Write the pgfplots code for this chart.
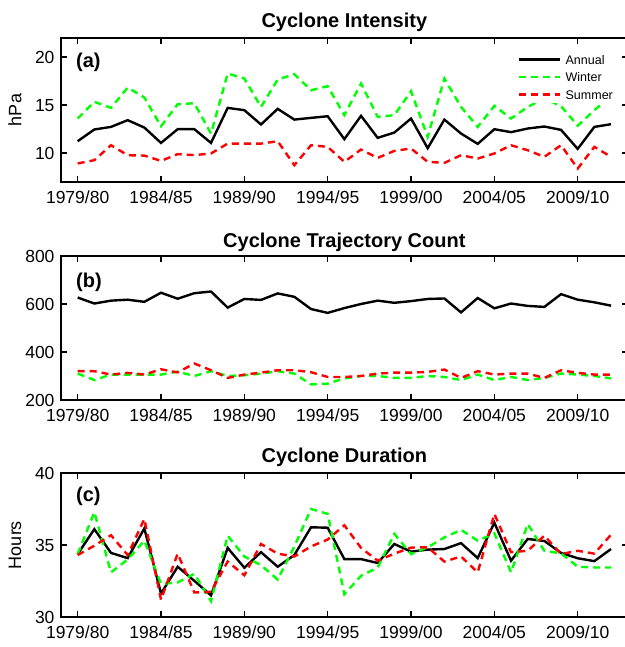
\documentclass[border=0pt]{standalone}
\usepackage{fontspec}
\setmainfont{Liberation Sans}
\usepackage{pgfplots}
\usepackage{pgfplotstable}
\pgfplotsset{compat=1.18}

\definecolor{wingreen}{RGB}{0,255,0}
\definecolor{sumred}{RGB}{255,0,0}

% season index: 0 = 1979/80 ... 32 = 2011/12
\pgfplotstableread{
x ann win sum
0 11.25 13.61 8.93
1 12.47 15.35 9.27
2 12.74 14.72 10.83
3 13.44 16.84 9.79
4 12.67 15.80 9.75
5 11.07 12.81 9.20
6 12.50 15.10 9.90
7 12.50 15.20 9.80
8 11.07 12.05 9.97
9 14.72 18.30 11.00
10 14.48 17.78 11.00
11 12.99 14.82 11.00
12 14.62 17.67 11.25
13 13.50 18.23 8.75
14 13.68 16.56 10.83
15 13.85 16.98 10.66
16 11.46 13.96 9.10
17 13.89 17.26 10.38
18 11.60 13.78 9.51
19 12.15 13.96 10.24
20 13.61 16.46 10.49
21 10.52 11.70 9.10
22 13.50 17.78 8.99
23 12.05 14.82 9.79
24 10.97 12.74 9.44
25 12.50 14.93 9.97
26 12.19 13.61 10.83
27 12.57 14.82 10.31
28 12.78 15.70 9.62
29 12.43 14.90 10.83
30 10.45 12.87 8.40
31 12.74 14.48 10.66
32 13.02 16.00 9.62
}\intensity

\pgfplotstableread{
x ann win sum
0 627 310 320
1 602 283 320
2 614 306 306
3 618 306 313
4 609 306 306
5 647 306 328
6 622 318 315
7 645 300 352
8 652 320 324
9 585 300 292
10 621 303 306
11 617 310 314
12 644 320 324
13 630 310 324
14 579 265 316
15 563 268 296
16 583 290 296
17 600 300 300
18 614 300 310
19 605 292 314
20 612 292 314
21 621 300 317
22 623 296 327
23 565 283 292
24 625 306 320
25 582 283 306
26 602 296 310
27 592 283 310
28 588 292 292
29 641 310 324
30 618 306 313
31 607 300 306
32 593 290 306
}\trajcount

\pgfplotstableread{
x ann win sum
0 34.37 34.37 34.30
1 36.10 37.28 34.95
2 34.45 33.10 35.68
3 34.09 34.00 34.30
4 36.15 35.30 36.81
5 31.63 32.30 31.20
6 33.49 32.40 34.40
7 32.51 33.00 31.70
8 31.50 31.10 31.75
9 34.80 35.65 33.85
10 33.42 34.20 32.90
11 34.50 33.60 35.07
12 33.49 32.60 34.40
13 34.30 34.90 34.20
14 36.23 37.50 34.90
15 36.20 37.16 35.38
16 34.02 31.58 36.37
17 34.02 32.86 34.80
18 33.75 33.44 33.91
19 35.07 35.77 34.40
20 34.54 34.37 34.82
21 34.68 34.84 34.84
22 34.72 35.53 33.85
23 35.13 36.05 34.20
24 34.09 35.30 33.10
25 36.55 35.81 37.16
26 33.91 33.10 34.50
27 35.42 36.46 34.60
28 35.28 34.60 35.65
29 34.45 34.42 34.37
30 34.08 33.49 34.60
31 33.88 33.44 34.40
32 34.72 33.44 35.72
}\duration

\pgfplotsset{
  panel/.style={
    scale only axis, width=566.7bp, height=144bp, anchor=south west,
    xmin=-1, xmax=33,
    xtick={0,5,...,30},
    xticklabels={1979/80,1984/85,1989/90,1994/95,1999/00,2004/05,2009/10},
    tick align=inside, xtick pos=both, ytick pos=both,
    xticklabel pos=bottom, yticklabel pos=left,
    major tick length=6bp,
    axis line style={line width=1.8bp},
    every tick/.style={black, line width=1.4bp},
    /pgf/number format/assume math mode=true,
    tick label style={font=\fontsize{17.5bp}{20bp}\selectfont},
    xticklabel style={yshift=-5bp},
    yticklabel style={xshift=-3bp},
    no markers,
  },
  ann/.style={black, line width=2.4bp},
  win/.style={wingreen, line width=2.4bp, dash pattern=on 7bp off 5bp},
  sum/.style={sumred, line width=2.4bp, dash pattern=on 7bp off 5bp},
}

\newcommand{\titlefont}{\bfseries\fontsize{20bp}{22bp}\selectfont}
\newcommand{\tagfont}{\bfseries\fontsize{20bp}{22bp}\selectfont}
\newcommand{\labfont}{\fontsize{18bp}{20bp}\selectfont}

\begin{document}
\begin{tikzpicture}
% (a) intensity
\begin{axis}[panel, name=pa, at={(61bp,465bp)},
  ymin=7, ymax=22, ytick={10,15,20},
  legend cell align=left,
  legend style={at={(0.803,0.91)}, anchor=north west, draw=none, fill=white,
    inner xsep=2bp, inner ysep=2bp, row sep=4.5bp, column sep=2bp,
    font=\fontsize{12.5bp}{14bp}\selectfont,
    nodes={inner sep=2bp, text height=9bp, text depth=0bp}},
  legend image code/.code={\draw[#1] (0bp,0bp) -- (41bp,0bp);},
]
\addplot[ann] table[x=x, y=ann] {\intensity};
\addlegendentry{Annual}
\addplot[win] table[x=x, y=win] {\intensity};
\addlegendentry{Winter}
\addplot[sum] table[x=x, y=sum] {\intensity};
\addlegendentry{Summer}
\end{axis}

% (b) trajectory count
\begin{axis}[panel, name=pb, at={(61bp,247bp)},
  ymin=200, ymax=800, ytick={200,400,600,800}]
\addplot[ann] table[x=x, y=ann] {\trajcount};
\addplot[win] table[x=x, y=win] {\trajcount};
\addplot[sum] table[x=x, y=sum] {\trajcount};
\end{axis}

% (c) duration
\begin{axis}[panel, name=pc, at={(61bp,30bp)},
  ymin=30, ymax=40, ytick={30,35,40}]
\addplot[ann] table[x=x, y=ann] {\duration};
\addplot[win] table[x=x, y=win] {\duration};
\addplot[sum] table[x=x, y=sum] {\duration};
\end{axis}

% titles
\node[anchor=base, font=\titlefont] at ([yshift=10bp]pa.north) {Cyclone Intensity};
\node[anchor=base, font=\titlefont] at ([yshift=9bp]pb.north) {Cyclone Trajectory Count};
\node[anchor=base, font=\titlefont] at ([yshift=10bp]pc.north) {Cyclone Duration};

% panel tags
\node[anchor=west, inner sep=0pt, font=\tagfont] at ([xshift=15bp,yshift=-24bp]pa.north west) {(a)};
\node[anchor=west, inner sep=0pt, font=\tagfont] at ([xshift=15bp,yshift=-26bp]pb.north west) {(b)};
\node[anchor=west, inner sep=0pt, font=\tagfont] at ([xshift=15bp,yshift=-23bp]pc.north west) {(c)};

% y-axis labels
\node[rotate=90, inner sep=0pt, font=\labfont] at ([xshift=-46bp]pa.west) {hPa};
\node[rotate=90, inner sep=0pt, font=\labfont] at ([xshift=-46bp]pc.west) {Hours};

\pgfresetboundingbox
\path (0,0) rectangle (625bp,647bp);
\end{tikzpicture}
\end{document}
